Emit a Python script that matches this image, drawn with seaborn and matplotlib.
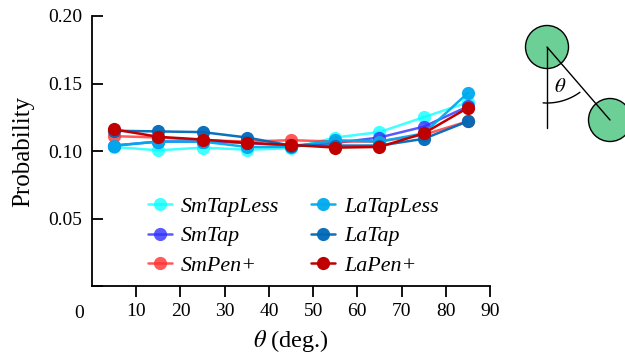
import numpy as np
import pandas as pd
import matplotlib
matplotlib.use("Agg")
import matplotlib.pyplot as plt
import seaborn as sns
from matplotlib.patches import Circle

theta = [5, 15, 25, 35, 45, 55, 65, 75, 85]
series_names = ["SmTapLess", "SmTap", "SmPen+", "LaTapLess", "LaTap", "LaPen+"]
sm_tapless = [0.103, 0.1005, 0.1025, 0.101, 0.102, 0.110, 0.114, 0.125, 0.136]
sm_tap     = [0.104, 0.107, 0.107, 0.106, 0.104, 0.106, 0.110, 0.118, 0.133]
sm_pen     = [0.111, 0.110, 0.108, 0.107, 0.108, 0.107, 0.107, 0.112, 0.122]
la_tapless = [0.104, 0.107, 0.107, 0.103, 0.103, 0.108, 0.107, 0.113, 0.143]
la_tap     = [0.115, 0.1145, 0.114, 0.110, 0.104, 0.104, 0.104, 0.109, 0.122]
la_pen     = [0.116, 0.1105, 0.1085, 0.106, 0.1045, 0.1025, 0.103, 0.113, 0.132]
values = [sm_tapless, sm_tap, sm_pen, la_tapless, la_tap, la_pen]
colors = ["#00ffff", "#3030ff", "#ff3030", "#00aaee", "#0068b8", "#c00000"]
alphas = [0.75, 0.8, 0.8, 0.95, 0.95, 1.0]

x_ticks = [10, 20, 30, 40, 50, 60, 70, 80, 90]
y_ticks = [0, 0.05, 0.10, 0.15, 0.20]
y_ticklabels = ["", "0.05", "0.10", "0.15", "0.20"]

sns.set_style("ticks", {"axes.edgecolor": "black", "xtick.color": "black",
                        "ytick.color": "black", "text.color": "black",
                        "axes.labelcolor": "black"})
plt.rcParams["font.family"] = ["Liberation Serif", "DejaVu Serif"]
plt.rcParams["mathtext.fontset"] = "stix"

W, H = 625, 355
fig = plt.figure(figsize=(W / 100, H / 100), dpi=100)
ax = fig.add_axes([92 / W, (H - 286) / H, (490 - 92) / W, (286 - 16) / H])

rows = []
for name, vals in zip(series_names, values):
    for t, v in zip(theta, vals):
        rows.append({"theta": t, "prob": v, "series": name})
df = pd.DataFrame(rows)

for name, c, a in zip(series_names, colors, alphas):
    sub = df[df["series"] == name]
    sns.lineplot(data=sub, x="theta", y="prob", ax=ax, color=c, alpha=a,
                 marker="o", markersize=9.5, markeredgewidth=0, linewidth=1.8,
                 label=name)

ax.set_xlim(0, 90)
ax.set_ylim(0, 0.2)
ax.set_xticks(x_ticks)
ax.set_xticklabels([str(t) for t in x_ticks])
ax.set_yticks(y_ticks)
ax.set_yticklabels(y_ticklabels)
ax.tick_params(axis="x", direction="out", length=8, width=1.3, labelsize=14, pad=4)
ax.tick_params(axis="y", direction="in", length=8, width=1.3, labelsize=14, pad=7)
for s in ["top", "right"]:
    ax.spines[s].set_visible(False)
for s in ["left", "bottom"]:
    ax.spines[s].set_linewidth(1.3)
ax.set_xlabel(r"$\theta$ (deg.)", fontsize=17.5, labelpad=6)
ax.set_ylabel("Probability", fontsize=18, labelpad=10)
fig.text(79 / W, 1 - 313 / H, "0", fontsize=14, ha="center", va="center")

leg = ax.legend(ncol=2, frameon=False, loc="upper left",
                bbox_to_anchor=(0.141, 0.332), borderaxespad=0, borderpad=0,
                prop={"style": "italic", "size": 15.8}, handlelength=1.1,
                columnspacing=1.45, labelspacing=0.42, handletextpad=0.4)

# diagram
dax = fig.add_axes([500 / W, 1 - 165 / H, 125 / W, 160 / H])
dax.set_xlim(500, 625)
dax.set_ylim(165, 5)
dax.axis("off")
green = "#6ccf95"
c1 = (547, 47)
c2 = (610, 120)
for c in (c1, c2):
    dax.add_patch(Circle(c, 21.5, facecolor=green, edgecolor="black", lw=1.0))
dax.plot([c1[0], c1[0]], [c1[1], 128], color="black", lw=1.0)
dax.plot([c1[0], c2[0]], [c1[1], c2[1]], color="black", lw=1.0)
ang = np.radians(np.linspace(-4, 36, 40))
r = 56
dax.plot(c1[0] + r * np.sin(ang), c1[1] + r * np.cos(ang), color="black", lw=1.0)
dax.text(560, 88, r"$\theta$", fontsize=15, ha="center", va="center")

fig.savefig("out.png", dpi=100)
